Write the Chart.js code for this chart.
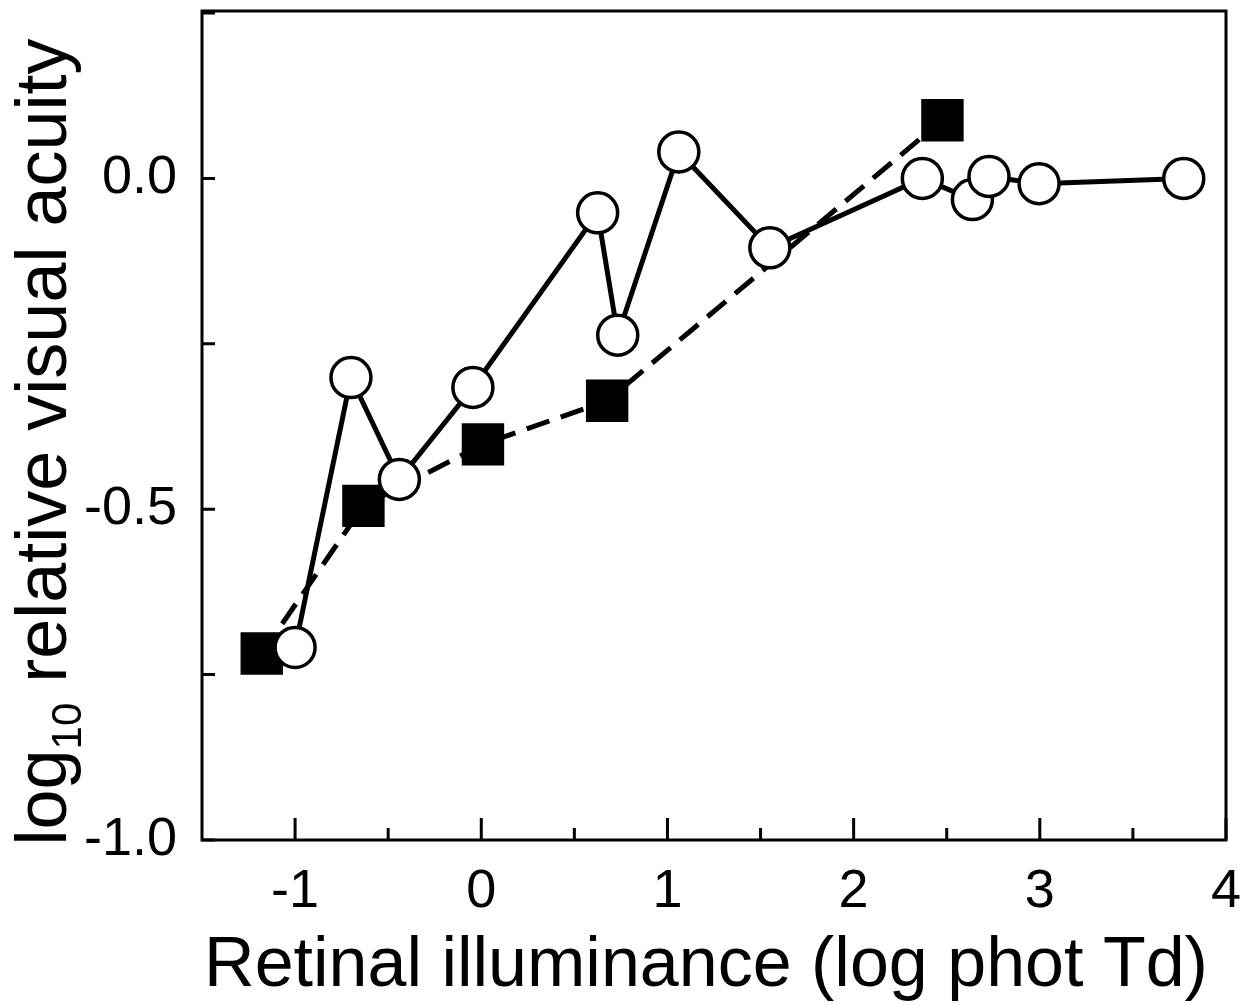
<!DOCTYPE html>
<html lang="en">
<head>
  <meta charset="UTF-8">
  <title>Visual acuity vs retinal illuminance</title>
  <script src="https://cdn.jsdelivr.net/npm/chart.js"></script>
  <style>
    body { margin: 0; background: #fff; }
    #wrap { width: 1241px; height: 1005px; }
  </style>
</head>
<body>
  <div id="wrap"><canvas id="chart"></canvas></div>

  <script>
    // open circles, solid line
    const circleX = [-1.0, -0.70, -0.44, -0.045, 0.625, 0.733, 1.061, 1.55, 2.369, 2.638, 2.727, 2.996, 3.773];
    const circleY = [-0.709, -0.301, -0.455, -0.316, -0.052, -0.237, 0.040, -0.105, 0.0, -0.032, 0.003, -0.008, 0.0];

    // filled squares, dashed line
    const squareX = [-1.179, -0.633, 0.009, 0.676, 2.477];
    const squareY = [-0.718, -0.495, -0.402, -0.336, 0.088];

    const xTickLabels = [-1, 0, 1, 2, 3, 4];
    const xMinorTicks = [-0.5, 0.5, 1.5, 2.5, 3.5];
    const yTickLabels = [0.0, -0.5, -1.0];
    const yTickMarks = [0.25, 0.0, -0.25, -0.5, -0.75, -1.0];

    const toPoints = (xs, ys) => xs.map((x, i) => ({ x: x, y: ys[i] }));

    // no extra room for overhanging tick labels
    const noPad = s => { s.paddingTop = 0; s.paddingBottom = 0; s.paddingLeft = 0; s.paddingRight = 0; };

    // box around plot + inward ticks + axis titles
    const framePlugin = {
      id: "frame",
      afterDraw(chart) {
        const ctx = chart.ctx;
        const a = chart.chartArea;
        const xs = chart.scales.x, ys = chart.scales.y;
        ctx.save();
        ctx.strokeStyle = "#000";
        ctx.lineWidth = 3;
        ctx.strokeRect(a.left, a.top, a.right - a.left, a.bottom - a.top);

        ctx.beginPath();
        xTickLabels.forEach(v => {
          const px = xs.getPixelForValue(v);
          ctx.moveTo(px, a.bottom); ctx.lineTo(px, a.bottom - 22);
        });
        xMinorTicks.forEach(v => {
          const px = xs.getPixelForValue(v);
          ctx.moveTo(px, a.bottom); ctx.lineTo(px, a.bottom - 12);
        });
        yTickMarks.forEach(v => {
          const py = ys.getPixelForValue(v);
          ctx.moveTo(a.left, py); ctx.lineTo(a.left + 13, py);
        });
        ctx.stroke();

        ctx.fillStyle = "#000";
        // x title
        ctx.font = "70px 'Liberation Sans', Arial, sans-serif";
        ctx.textAlign = "center";
        ctx.textBaseline = "alphabetic";
        ctx.fillText("Retinal illuminance (log phot Td)", 706, 986);

        // y title with subscript
        ctx.translate(66, 442);
        ctx.rotate(-Math.PI / 2);
        const big = "72px 'Liberation Sans', Arial, sans-serif";
        const small = "42px 'Liberation Sans', Arial, sans-serif";
        ctx.font = big;
        const w1 = ctx.measureText("log").width;
        const w3 = ctx.measureText(" relative visual acuity").width;
        ctx.font = small;
        const w2 = ctx.measureText("10").width;
        let x0 = -(w1 + w2 + w3) / 2;
        ctx.textAlign = "left";
        ctx.font = big;
        ctx.fillText("log", x0, 0);
        ctx.font = small;
        ctx.fillText("10", x0 + w1, 15);
        ctx.font = big;
        ctx.fillText(" relative visual acuity", x0 + w1 + w2, 0);
        ctx.restore();
      }
    };

    const tickFont = { family: "'Liberation Sans', Arial, sans-serif", size: 54 };

    new Chart(document.getElementById("chart"), {
      type: "scatter",
      data: {
        datasets: [
          {
            label: "circles",
            data: toPoints(circleX, circleY),
            showLine: true,
            borderColor: "#000",
            borderWidth: 5,
            pointStyle: "circle",
            pointRadius: 20,
            pointBackgroundColor: "#fff",
            pointBorderColor: "#000",
            pointBorderWidth: 3.5,
            clip: false
          },
          {
            label: "squares",
            data: toPoints(squareX, squareY),
            showLine: true,
            borderColor: "#000",
            borderWidth: 5,
            borderDash: [24, 12],
            pointStyle: "rect",
            pointRadius: 30,
            pointBackgroundColor: "#000",
            pointBorderColor: "#000",
            pointBorderWidth: 0,
            clip: false
          }
        ]
      },
      options: {
        responsive: true,
        maintainAspectRatio: false,
        animation: false,
        layout: { autoPadding: false, padding: { top: 11, right: 15, left: 0, bottom: 0 } },
        plugins: {
          legend: { display: false },
          tooltip: { enabled: false }
        },
        elements: { point: { hoverRadius: 20 } },
        scales: {
          x: {
            type: "linear",
            min: -1.5,
            max: 4,
            afterBuildTicks: s => { s.ticks = xTickLabels.map(v => ({ value: v })); },
            afterFit: s => { s.height = 165; noPad(s); },
            grid: { display: false, drawTicks: false },
            border: { display: false },
            ticks: { font: tickFont, color: "#000", padding: 20, maxRotation: 0 }
          },
          y: {
            type: "linear",
            min: -1.0,
            max: 0.253,
            afterBuildTicks: s => { s.ticks = yTickLabels.map(v => ({ value: v })); },
            afterFit: s => { s.width = 202; noPad(s); },
            grid: { display: false, drawTicks: false },
            border: { display: false },
            ticks: {
              font: tickFont,
              color: "#000",
              padding: 25,
              callback: v => v.toFixed(1)
            }
          }
        }
      },
      plugins: [framePlugin]
    });
  </script>
</body>
</html>
